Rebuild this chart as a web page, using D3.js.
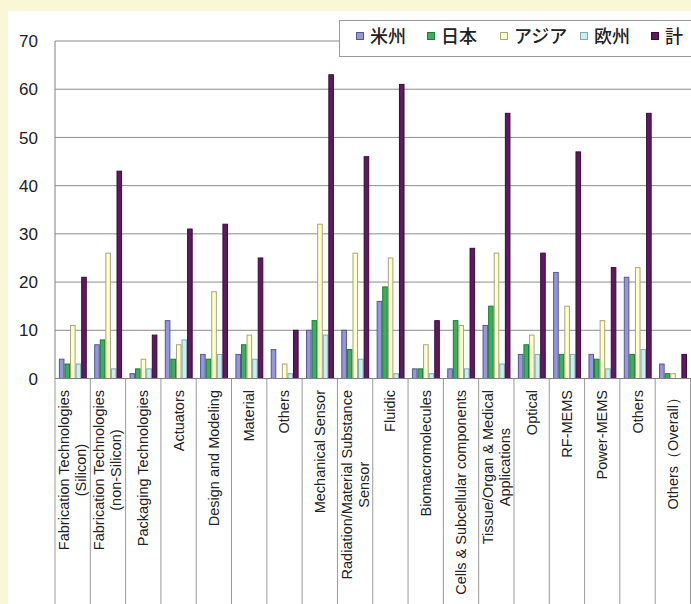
<!DOCTYPE html>
<html><head><meta charset="utf-8">
<script src="https://cdn.jsdelivr.net/npm/d3@7/dist/d3.min.js"></script>
<style>
html,body{margin:0;padding:0;background:#F9F7D6;}
svg{display:block;}
</style></head>
<body>
<svg id="chart" width="691" height="604"></svg>
<script>
const categories = [
  "Fabrication Technologies\n(Silicon)",
  "Fabrication Technologies\n(non-Silicon)",
  "Packaging Technologies",
  "Actuators",
  "Design and Modeling",
  "Material",
  "Others",
  "Mechanical Sensor",
  "Radiation/Material Substance\nSensor",
  "Fluidic",
  "Biomacromolecules",
  "Cells & Subcellular components",
  "Tissue/Organ & Medical\nApplications",
  "Optical",
  "RF-MEMS",
  "Power-MEMS",
  "Others",
  "Others（Overall）"
];
const seriesNames = ["米州", "日本", "アジア", "欧州", "計"];
const americas = [4,7,1,12,5,5,6,10,10,16,2,2,11,5,22,5,21,3];
const japan    = [3,8,2,4,4,7,0,12,6,19,2,12,15,7,5,4,5,1];
const asia     = [11,26,4,7,18,9,3,32,26,25,7,11,26,9,15,12,23,1];
const europe   = [3,2,2,8,5,4,1,9,4,1,1,2,3,5,5,2,6,0];
const total    = [21,43,9,31,32,25,10,63,46,61,12,27,55,26,47,23,55,5];
const yTicks = [0,10,20,30,40,50,60,70];

(function () {
const seriesValues = [americas, japan, asia, europe, total];
const fills   = ["#9497D8", "#3DAE5B", "#FFFFCC", "#CCEEF2", "#5E1A60"];
const strokes = ["#55588F", "#1F7A35", "#A8A47A", "#7FAAB2", "#3A0C3C"];

const svg = d3.select("#chart");
svg.append("rect").attr("x", 8).attr("y", 11).attr("width", 700).attr("height", 600).attr("fill", "#fff");

const pLeft = 55, pRight = 690.5, pTop = 41, pBottom = 378.5;
const x0 = d3.scaleBand().domain(d3.range(categories.length)).range([pLeft, pRight]).padding(0);
const x1 = d3.scaleBand().domain(d3.range(seriesNames.length))
  .range([x0.bandwidth() * 0.11, x0.bandwidth() * 0.9]).padding(0);
const y = d3.scaleLinear().domain([0, 70]).range([pBottom, pTop]);

svg.append("g").selectAll("line").data(yTicks).join("line")
  .attr("x1", pLeft).attr("x2", 691)
  .attr("y1", d => y(d)).attr("y2", d => y(d))
  .attr("stroke", "#8c8c8c").attr("stroke-width", 1);

svg.append("g").selectAll("text").data(yTicks).join("text")
  .attr("x", 38).attr("y", d => y(d)).attr("dy", "0.36em")
  .attr("text-anchor", "end")
  .attr("font-family", "'Liberation Sans', Arial, sans-serif")
  .attr("font-size", 17).attr("fill", "#222")
  .text(d => d);

svg.append("line").attr("x1", pLeft).attr("x2", pLeft).attr("y1", pTop).attr("y2", pBottom)
  .attr("stroke", "#808080");

const seps = d3.range(categories.length + 1).map(i => pLeft + i * x0.step());
svg.append("g").selectAll("line").data(seps).join("line")
  .attr("x1", d => d).attr("x2", d => d)
  .attr("y1", pBottom).attr("y2", 604)
  .attr("stroke", "#9a9a9a");

const groups = svg.append("g").selectAll("g").data(categories).join("g")
  .attr("transform", (d, i) => `translate(${x0(i)},0)`);
groups.selectAll("rect")
  .data((d, i) => seriesValues.map((s, k) => ({k, v: s[i]})).filter(e => e.v > 0))
  .join("rect")
  .attr("x", e => x1(e.k) + 0.5)
  .attr("y", e => y(e.v))
  .attr("width", x1.bandwidth() - 1)
  .attr("height", e => y(0) - y(e.v))
  .attr("fill", e => fills[e.k])
  .attr("stroke", e => strokes[e.k])
  .attr("stroke-width", 1);

svg.append("line").attr("x1", pLeft).attr("x2", 691).attr("y1", pBottom).attr("y2", pBottom)
  .attr("stroke", "#808080");

const labelFont = "'Liberation Sans', Arial, sans-serif";
const lineH = 17;
categories.forEach((c, i) => {
  const lines = c.split("\n");
  const cx = x0(i) + x0.bandwidth() / 2;
  const g = svg.append("g").attr("transform", `translate(${cx},390) rotate(-90)`);
  const t = g.append("text")
    .attr("font-family", labelFont).attr("font-size", 14.5).attr("fill", "#222")
    .attr("text-anchor", "middle");
  const tsp = lines.map(ln => t.append("tspan").text(ln));
  const maxLen = d3.max(tsp, s => s.node().getComputedTextLength());
  const off = (lines.length - 1) * lineH / 2;
  tsp.forEach((s, j) => {
    s.attr("x", -maxLen / 2).attr("y", -off + j * lineH + 5);
  });
});

const lg = svg.append("g");
lg.append("rect").attr("x", 339.5).attr("y", 20.5).attr("width", 400).attr("height", 36)
  .attr("fill", "#fff").attr("stroke", "#9a9a9a");
const legX = [356, 427, 500, 580, 651];
seriesNames.forEach((n, k) => {
  lg.append("rect").attr("x", legX[k] + 0.5).attr("y", 32.5).attr("width", 7).attr("height", 7)
    .attr("fill", fills[k]).attr("stroke", strokes[k]);
  lg.append("text").attr("x", legX[k] + 14).attr("y", 36.5).attr("dy", "0.36em")
    .attr("font-family", "'Noto Sans CJK JP', sans-serif").attr("font-size", 18)
    .attr("font-weight", 500)
    .attr("fill", "#222").text(n);
});
})();
</script>
</body></html>
